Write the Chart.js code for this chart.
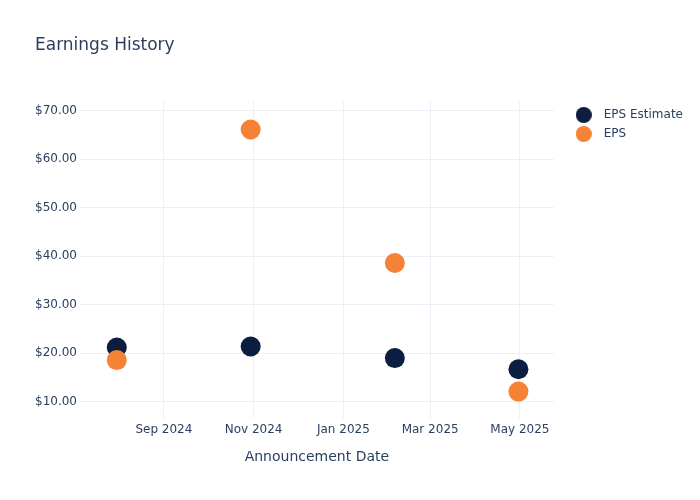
<!DOCTYPE html>
<html>
<head>
<meta charset="utf-8">
<script src="https://cdn.jsdelivr.net/npm/chart.js@4.4.1/dist/chart.umd.min.js"></script>
<style>
  html, body { margin: 0; padding: 0; background: #fff; }
  #wrap { width: 700px; height: 500px; }
</style>
</head>
<body>
<div id="wrap"><canvas id="earningsChart"></canvas></div>
<script>
// ===== Data =====
const announceDates = ['2024-07-31', '2024-10-30', '2025-02-05', '2025-04-30'];
const epsEstimate = [21.2, 21.4, 19.0, 16.7];
const epsActual = [18.6, 66.1, 38.6, 12.1];
const xTickMonths = ['2024-09-01', '2024-11-01', '2025-01-01', '2025-03-01', '2025-05-01'];
const yTickValues = [10, 20, 30, 40, 50, 60, 70];
const monthNames = ['Jan','Feb','Mar','Apr','May','Jun','Jul','Aug','Sep','Oct','Nov','Dec'];

const toMs = d => Date.parse(d + 'T00:00:00Z');
const textColor = '#2a3f5f';
const gridColor = '#ebf0f8';

function points(values) {
    return announceDates.map((d, i) => ({ x: toMs(d), y: values[i] }));
}

// round legend marker, drawn as a small canvas so the text gap can be wider
function legendDot(color) {
    const c = document.createElement('canvas');
    c.width = 16; c.height = 16;
    const g = c.getContext('2d');
    g.fillStyle = color;
    g.beginPath();
    g.arc(8, 8, 8, 0, Math.PI * 2);
    g.fill();
    return c;
}

const ctx = document.getElementById('earningsChart');
new Chart(ctx, {
    type: 'scatter',
    data: {
        datasets: [
            {
                label: 'EPS Estimate',
                data: points(epsEstimate),
                backgroundColor: '#0c1e3f',
                borderWidth: 0,
                pointRadius: 10,
                pointHoverRadius: 10,
                order: 1
            },
            {
                label: 'EPS',
                data: points(epsActual),
                backgroundColor: '#f58235',
                borderWidth: 0,
                pointRadius: 10,
                pointHoverRadius: 10,
                order: 0
            }
        ]
    },
    options: {
        responsive: true,
        maintainAspectRatio: false,
        animation: false,
        layout: { padding: { left: 35, right: 7, top: 0, bottom: 34 } },
        scales: {
            x: {
                type: 'linear',
                min: toMs('2024-07-06'),
                max: toMs('2025-05-24'),
                grid: { color: gridColor, drawTicks: false },
                border: { display: false },
                afterBuildTicks: s => { s.ticks = xTickMonths.map(d => ({ value: toMs(d) })); },
                ticks: {
                    color: textColor,
                    font: { family: 'DejaVu Sans', size: 12 },
                    padding: 4,
                    maxRotation: 0,
                    callback: v => {
                        const d = new Date(v);
                        return monthNames[d.getUTCMonth()] + ' ' + d.getUTCFullYear();
                    }
                },
                title: {
                    display: true,
                    text: 'Announcement Date',
                    color: textColor,
                    font: { family: 'DejaVu Sans', size: 14 },
                    padding: { top: 8.5, bottom: 0 }
                }
            },
            y: {
                min: 6.6,
                max: 71.9,
                grid: { color: gridColor, drawTicks: false },
                border: { display: false },
                afterBuildTicks: s => { s.ticks = yTickValues.map(v => ({ value: v })); },
                afterFit: s => { s.width = 45; },
                ticks: {
                    color: textColor,
                    font: { family: 'DejaVu Sans', size: 12 },
                    padding: 3,
                    callback: v => '$' + v.toFixed(2)
                }
            },
            // empty spacer between plot and legend
            gap: {
                type: 'linear',
                position: 'right',
                display: true,
                grid: { display: false, drawTicks: false },
                border: { display: false },
                ticks: { display: false },
                afterFit: s => { s.width = 9; }
            }
        },
        plugins: {
            title: {
                display: true,
                text: 'Earnings History',
                align: 'start',
                color: textColor,
                font: { family: 'DejaVu Sans', size: 17, weight: 'normal' },
                padding: { top: 35, bottom: 46 }
            },
            legend: {
                position: 'right',
                align: 'start',
                maxWidth: 200,
                // empty title only pushes the entries down to the plot top
                title: { display: true, text: '', font: { size: 12 }, padding: { top: 87.6, bottom: 0 } },
                labels: {
                    usePointStyle: true,
                    boxHeight: 12,
                    pointStyleWidth: 28,
                    padding: 7,
                    color: textColor,
                    font: { family: 'DejaVu Sans', size: 12 },
                    sort: (a, b) => a.datasetIndex - b.datasetIndex,
                    generateLabels: chart => Chart.defaults.plugins.legend.labels.generateLabels(chart)
                        .map(item => Object.assign(item, { pointStyle: legendDot(item.fillStyle) }))
                }
            },
            tooltip: { enabled: false }
        }
    }
});
</script>
</body>
</html>
